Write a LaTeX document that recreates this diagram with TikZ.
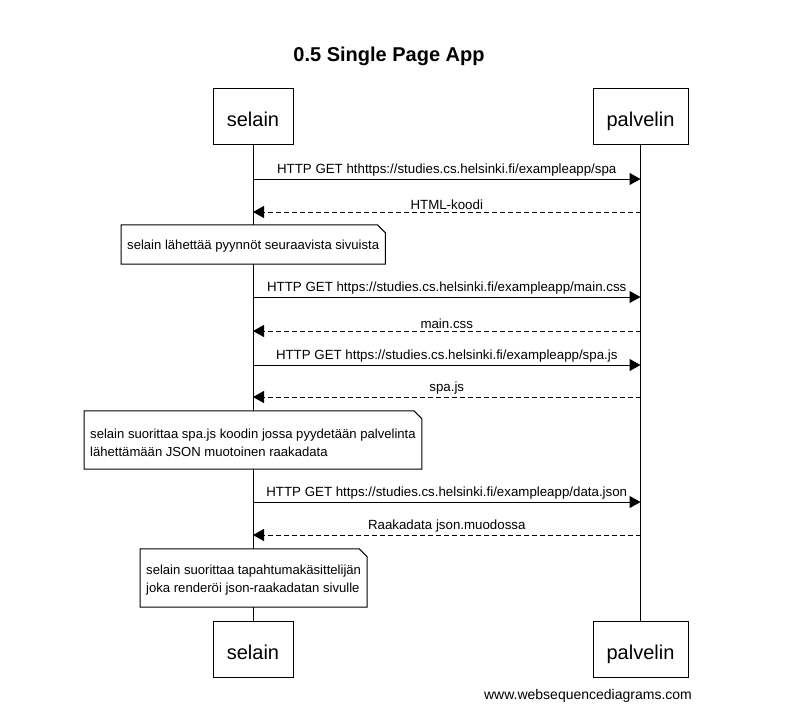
\documentclass[tikz,border=0pt]{standalone}
\usepackage{fontspec}
\setmainfont{Liberation Sans}
\usetikzlibrary{arrows.meta}
\pgfdeclarelayer{lines}
\pgfdeclarelayer{notes}
\pgfsetlayers{lines,notes,main}
\begin{document}
\begin{tikzpicture}[x=1pt,y=-1pt,
  actor/.style={draw, line width=1pt, fill=white, minimum height=56pt, inner sep=0pt, text height=20pt, text depth=0pt, font=\fontsize{20}{24}\selectfont},
  msg/.style={-{Triangle[length=11pt,width=12pt]}, line width=1pt},
  ret/.style={msg, dash pattern=on 5pt off 3pt},
  lbl/.style={font=\fontsize{13.3}{15}\selectfont, inner sep=0pt, anchor=south},
  notetext/.style={font=\fontsize{13.1}{18}\selectfont, align=left, anchor=west, inner xsep=6pt, inner ysep=0pt},
  notebox/.style={line width=1pt, fill=white},
  lifeline/.style={line width=1pt}]
\useasboundingbox (0,0) rectangle (802,724);
\begin{pgfonlayer}{lines}
\fill[white] (0,0) rectangle (802,724);
\end{pgfonlayer}

\node[font=\bfseries\fontsize{20}{24}\selectfont] (title) at (389,56) {0.5 Single Page App};

\node[actor, minimum width=80pt] (sa) at (253,116) {selain};
\node[actor, minimum width=95pt] (pa) at (640.5,116) {palvelin};
\node[actor, minimum width=80pt] (sb) at (253,649) {selain};
\node[actor, minimum width=95pt] (pb) at (640.5,649) {palvelin};

\begin{pgfonlayer}{lines}
\draw[lifeline] (sa.south) -- (sb.north);
\draw[lifeline] (pa.south) -- (pb.north);
\end{pgfonlayer}

% messages
\draw[msg] (sa |- 0,179) -- node[lbl, above=2pt] {HTTP GET hthttps://studies.cs.helsinki.fi/exampleapp/spa} (pa |- 0,179);
\draw[ret] (pa |- 0,212) -- node[lbl, above=2pt] {HTML-koodi} (sa |- 0,212);

% note 1
\node[notetext, minimum height=39pt] (n1) at (121,246) {selain lähettää pyynnöt seuraavista sivuista};
\begin{pgfonlayer}{notes}
\draw[notebox] ([yshift=1.5pt]n1.north west) -- ([xshift=-8pt,yshift=1.5pt]n1.north east) -- ([yshift=-6.5pt]n1.north east) -- ([yshift=1.5pt]n1.south east) -- ([yshift=1.5pt]n1.south west) -- cycle;
\end{pgfonlayer}

\draw[msg] (sa |- 0,297) -- node[lbl, above=2pt] {HTTP GET https://studies.cs.helsinki.fi/exampleapp/main.css} (pa |- 0,297);
\draw[ret] (pa |- 0,331) -- node[lbl, above=2pt] {main.css} (sa |- 0,331);
\draw[msg] (sa |- 0,365) -- node[lbl, above=2pt] {HTTP GET https://studies.cs.helsinki.fi/exampleapp/spa.js} (pa |- 0,365);
\draw[ret] (pa |- 0,397) -- node[lbl, above=2pt] {spa.js} (sa |- 0,397);

% note 2
\node[notetext, minimum height=58pt] (n2) at (84,442.5) {selain suorittaa spa.js koodin jossa pyydetään palvelinta\\lähettämään JSON muotoinen raakadata};
\begin{pgfonlayer}{notes}
\draw[notebox] ([yshift=2.5pt]n2.north west) -- ([xshift=-8pt,yshift=2.5pt]n2.north east) -- ([yshift=-5.5pt]n2.north east) -- ([yshift=2.5pt]n2.south east) -- ([yshift=2.5pt]n2.south west) -- cycle;
\end{pgfonlayer}

\draw[msg] (sa |- 0,502) -- node[lbl, above=2pt] {HTTP GET https://studies.cs.helsinki.fi/exampleapp/data.json} (pa |- 0,502);
\draw[ret] (pa |- 0,535) -- node[lbl, above=2pt] {Raakadata json.muodossa} (sa |- 0,535);

% note 3
\node[notetext, minimum height=58pt] (n3) at (140,580.5) {selain suorittaa tapahtumakäsittelijän\\joka renderöi json-raakadatan sivulle};
\begin{pgfonlayer}{notes}
\draw[notebox] ([yshift=2.5pt]n3.north west) -- ([xshift=-8pt,yshift=2.5pt]n3.north east) -- ([yshift=-5.5pt]n3.north east) -- ([yshift=2.5pt]n3.south east) -- ([yshift=2.5pt]n3.south west) -- cycle;
\end{pgfonlayer}

\node[font=\fontsize{14}{16}\selectfont] (footer) at (588,696) {www.websequencediagrams.com};
\end{tikzpicture}
\end{document}
